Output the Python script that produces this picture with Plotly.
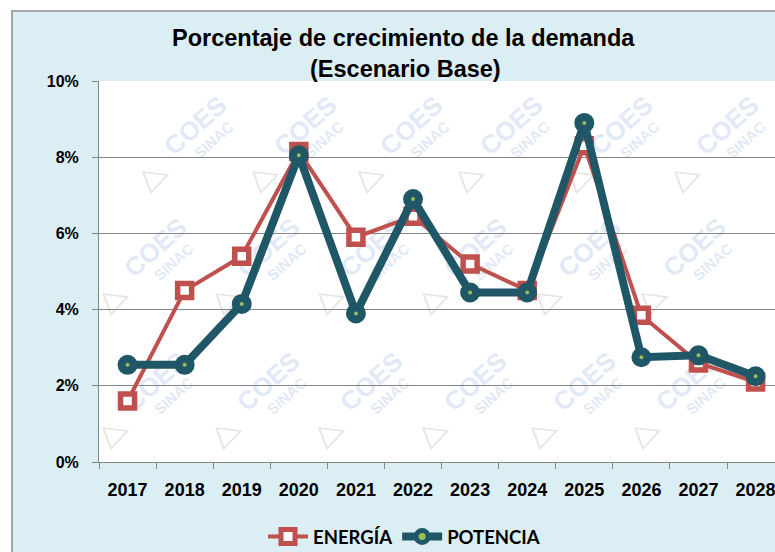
import plotly.graph_objects as go

years = ["2017", "2018", "2019", "2020", "2021", "2022", "2023", "2024", "2025", "2026", "2027", "2028"]
energia = [1.6, 4.5, 5.4, 8.15, 5.9, 6.45, 5.2, 4.5, 8.3, 3.85, 2.6, 2.1]
potencia = [2.55, 2.55, 4.15, 8.05, 3.9, 6.9, 4.45, 4.45, 8.9, 2.75, 2.8, 2.25]
yticks = [0, 2, 4, 6, 8, 10]
yticklabels = ["0%", "2%", "4%", "6%", "8%", "10%"]

RED = "#c0504d"
TEAL = "#1f5767"
W, H = 775, 552
L, R, T, B = 99, 0, 81, 90
pw, ph = W - L - R, H - T - B


def px(x):
    return (x - L) / pw


def py(y):
    return (H - B - y) / ph


fig = go.Figure()
fig.add_trace(go.Scatter(
    x=years, y=energia, name="<b>ENERGÍA</b>", mode="lines+markers",
    line=dict(color=RED, width=4),
    marker=dict(symbol="square", size=14, color="white", line=dict(color=RED, width=5.5)),
))
fig.add_trace(go.Scatter(
    x=years, y=potencia, name="<b>POTENCIA</b>", mode="lines+markers",
    line=dict(color=TEAL, width=8),
    marker=dict(symbol="circle", size=12, color="#9bbb59", line=dict(color=TEAL, width=8)),
))

shapes = [
    dict(type="rect", xref="paper", yref="paper", x0=px(12), x1=px(800), y0=py(11), y1=py(600),
         fillcolor="#dbeef4", line=dict(color="#8c8c8c", width=1.5), layer="below"),
    dict(type="rect", xref="paper", yref="paper", x0=0, x1=1, y0=0, y1=1,
         fillcolor="white", line=dict(width=0), layer="below"),
]


def wm_label(cx, cy, text, size, color, angle, family="Liberation Sans"):
    return dict(type="rect", xref="paper", yref="paper",
                x0=px(cx - 1), x1=px(cx + 1), y0=py(cy + 1), y1=py(cy - 1),
                line=dict(width=0), fillcolor="rgba(0,0,0,0)", layer="below",
                label=dict(text=text, textposition="middle center", textangle=angle,
                           font=dict(family=family, size=size, color=color)))


# faint "COES SINAC" watermark tiles (decoration, drawn beneath the data)
wm_rows = [(174, [156, 266, 372, 472, 582, 688]),
           (296, [116, 229, 332, 436, 550, 655]),
           (430, [116, 229, 332, 436, 545, 648])]
for ty, xs in wm_rows:
    for tx in xs:
        shapes.append(wm_label(tx + 38, ty - 50, "<b>COES</b>", 26, "rgba(150,175,225,0.30)", -42))
        shapes.append(wm_label(tx + 57, ty - 35, "<b>SINAC</b>", 15, "rgba(150,175,225,0.30)", -42))
        shapes.append(wm_label(tx, ty, "▷", 32, "rgba(160,170,150,0.30)", -20, "DejaVu Sans"))

title_font = dict(family="Liberation Sans", size=23.5, color="black")
annotations = [
    dict(text="<b>Porcentaje de crecimiento de la demanda</b>", xref="paper", yref="paper",
         x=px(403), y=py(38), xanchor="center", yanchor="middle", showarrow=False, font=title_font),
    dict(text="<b>(Escenario Base)</b>", xref="paper", yref="paper",
         x=px(405), y=py(69), xanchor="center", yanchor="middle", showarrow=False, font=title_font),
]

fig.update_layout(
    width=W, height=H,
    margin=dict(l=L, r=R, t=T, b=B, pad=0),
    paper_bgcolor="white", plot_bgcolor="rgba(0,0,0,0)",
    shapes=shapes, annotations=annotations,
    showlegend=True,
    legend=dict(orientation="h", x=px(404), y=(H - 537) / H, yref="container",
                xanchor="center", yanchor="middle",
                font=dict(family="Lato, Open Sans, sans-serif", size=18.5, color="black"),
                itemwidth=40, bgcolor="rgba(0,0,0,0)"),
    xaxis=dict(type="category", range=[-0.5, 11.34], showgrid=False,
               showline=True, linecolor="#868686", linewidth=1,
               ticks="outside", tickson="boundaries", ticklen=6, tickcolor="#868686",
               tickvals=years, ticktext=["<b>%s</b>" % y for y in years],
               tickfont=dict(family="Liberation Sans", size=18, color="black"),
               ticklabelstandoff=11),
    yaxis=dict(range=[0, 10], tickvals=yticks, ticktext=["<b>%s</b>" % t for t in yticklabels],
               showgrid=True, gridcolor="#868686", gridwidth=1,
               showline=True, linecolor="#868686", linewidth=1, zeroline=False,
               ticks="outside", ticklen=6, tickcolor="#868686",
               tickfont=dict(family="Liberation Sans", size=16, color="black"),
               ticklabelstandoff=10),
)

fig.write_html("out.html", config={"displayModeBar": False},
               post_script="document.body.style.margin='0px';")
